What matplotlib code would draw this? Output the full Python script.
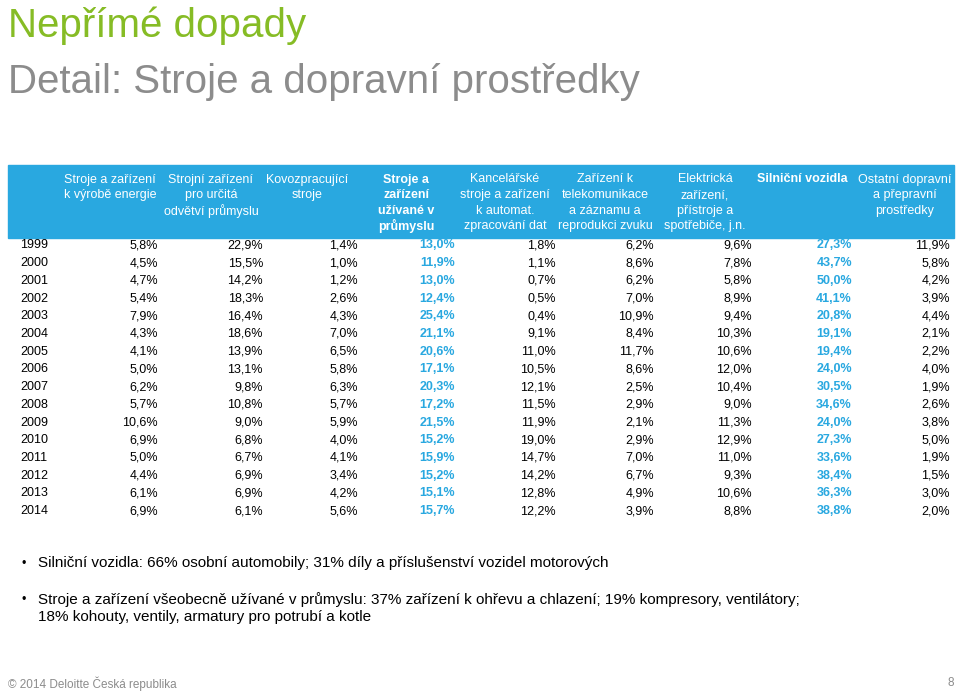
import matplotlib
matplotlib.use("Agg")
import matplotlib.pyplot as plt
from matplotlib.patches import Rectangle

headers = ["Stroje a zařízení\nk výrobě energie", "Strojní zařízení\npro určitá\nodvětví průmyslu",
           "Kovozpracující\nstroje", "Stroje a\nzařízení\nužívané v\nprůmyslu",
           "Kancelářské\nstroje a zařízení\nk automat.\nzpracování dat",
           "Zařízení k\ntelekomunikace\na záznamu a\nreprodukci zvuku",
           "Elektrická\nzařízení,\npřístroje a\nspotřebiče, j.n.",
           "Silniční vozidla", "Ostatní dopravní\na přepravní\nprostředky"]
years = [1999, 2000, 2001, 2002, 2003, 2004, 2005, 2006, 2007, 2008, 2009, 2010, 2011, 2012, 2013, 2014]
energie = [5.8, 4.5, 4.7, 5.4, 7.9, 4.3, 4.1, 5.0, 6.2, 5.7, 10.6, 6.9, 5.0, 4.4, 6.1, 6.9]
odvetvi = [22.9, 15.5, 14.2, 18.3, 16.4, 18.6, 13.9, 13.1, 9.8, 10.8, 9.0, 6.8, 6.7, 6.9, 6.9, 6.1]
kovo = [1.4, 1.0, 1.2, 2.6, 4.3, 7.0, 6.5, 5.8, 6.3, 5.7, 5.9, 4.0, 4.1, 3.4, 4.2, 5.6]
prumysl = [13.0, 11.9, 13.0, 12.4, 25.4, 21.1, 20.6, 17.1, 20.3, 17.2, 21.5, 15.2, 15.9, 15.2, 15.1, 15.7]
kancel = [1.8, 1.1, 0.7, 0.5, 0.4, 9.1, 11.0, 10.5, 12.1, 11.5, 11.9, 19.0, 14.7, 14.2, 12.8, 12.2]
telekom = [6.2, 8.6, 6.2, 7.0, 10.9, 8.4, 11.7, 8.6, 2.5, 2.9, 2.1, 2.9, 7.0, 6.7, 4.9, 3.9]
elektr = [9.6, 7.8, 5.8, 8.9, 9.4, 10.3, 10.6, 12.0, 10.4, 9.0, 11.3, 12.9, 11.0, 9.3, 10.6, 8.8]
silnicni = [27.3, 43.7, 50.0, 41.1, 20.8, 19.1, 19.4, 24.0, 30.5, 34.6, 24.0, 27.3, 33.6, 38.4, 36.3, 38.8]
ostatni = [11.9, 5.8, 4.2, 3.9, 4.4, 2.1, 2.2, 4.0, 1.9, 2.6, 3.8, 5.0, 1.9, 1.5, 3.0, 2.0]
columns = [energie, odvetvi, kovo, prumysl, kancel, telekom, elektr, silnicni, ostatni]
highlight = [False, False, False, True, False, False, False, True, False]

BLUE = "#29a8e0"
GREEN = "#86bc25"
GRAY = "#8c8c8c"
FONT = "Liberation Sans"

fig = plt.figure(figsize=(9.6, 6.92), dpi=100)
W, H = 960, 692
def T(x, y, s, **kw):
    kw.setdefault("family", FONT)
    kw.setdefault("va", "center_baseline")
    fig.text(x / W, 1 - y / H, s, **kw)

T(8, 22, "Nepřímé dopady", color=GREEN, fontsize=29)
T(8, 78, "Detail: Stroje a dopravní prostředky", color=GRAY, fontsize=29)

fig.patches.append(Rectangle((8 / W, 1 - 238 / H), 946 / W, 73 / H,
                             transform=fig.transFigure, color=BLUE, zorder=0))

centers = [110, 211, 307, 406, 505, 605, 705, 802, 905]
rights = [158, 263, 358, 455, 556, 654, 752, 852, 950]
for c, h, hl in zip(centers, headers, highlight):
    for k, line in enumerate(h.split("\n")):
        T(c, 178 + k * 15.6, line, color="white", fontsize=9, ha="center",
          weight="bold" if hl else "normal")

for i, yr in enumerate(years):
    y = 244 + i * 17.7
    T(20, y, str(yr), fontsize=9)
    for r, col, hl in zip(rights, columns, highlight):
        s = f"{col[i]:.1f}%".replace(".", ",")
        T(r, y, s, fontsize=9, ha="right",
          color=BLUE if hl else "black", weight="bold" if hl else "normal")

T(22, 562, "•", fontsize=9)
T(38, 562, "Silniční vozidla: 66% osobní automobily; 31% díly a příslušenství vozidel motorových",
  fontsize=11)
T(22, 598, "•", fontsize=9)
T(38, 598, "Stroje a zařízení všeobecně užívané v průmyslu: 37% zařízení k ohřevu a chlazení; 19% kompresory, ventilátory;",
  fontsize=11)
T(38, 616, "18% kohouty, ventily, armatury pro potrubí a kotle", fontsize=11)

T(8, 682, "© 2014 Deloitte Česká republika", fontsize=8.5, color=GRAY)
T(954, 682, "8", fontsize=8.5, color=GRAY, ha="right")

fig.savefig("out.png", dpi=100)
